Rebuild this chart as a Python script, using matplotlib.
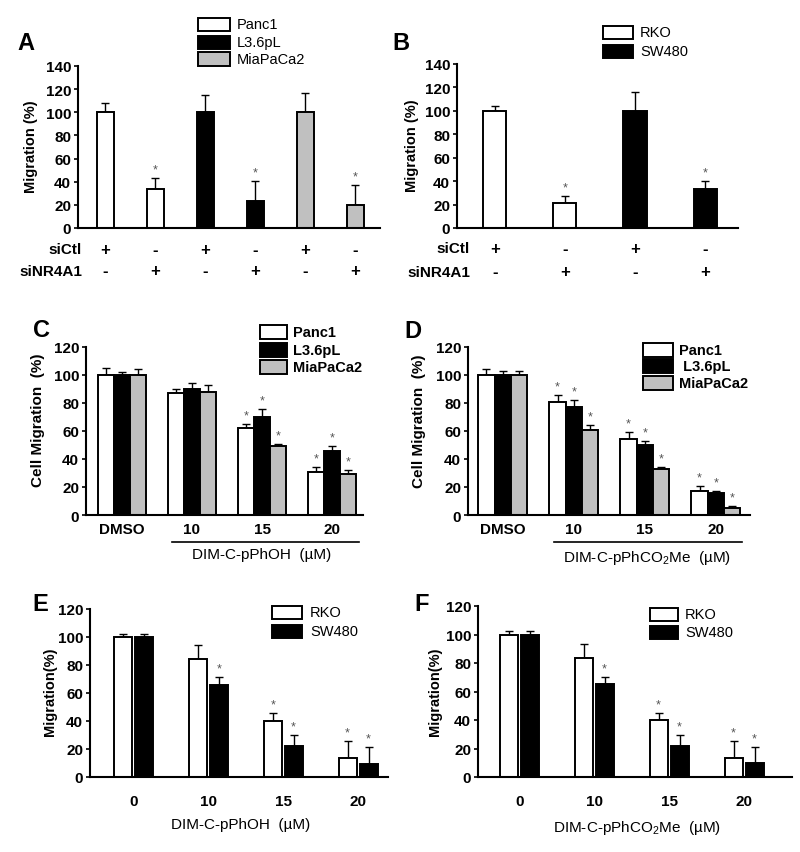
import numpy as np
import matplotlib
matplotlib.use('Agg')
import matplotlib.pyplot as plt
from matplotlib.patches import Rectangle

plt.rcParams['font.family'] = ['Liberation Sans', 'DejaVu Sans']

W, H = 800, 853
GREY = '#c0c0c0'

# Panel A - siNR4A1 knockdown, pancreatic cells
a_names = ['Panc1', 'L3.6pL', 'MiaPaCa2']
a_vals = [100, 34, 100, 23, 100, 20]
a_err = [8, 9, 15, 18, 17, 17]
a_sig = [False, True, False, True, False, True]
a_sictl = ['+', '-', '+', '-', '+', '-']
a_sinr = ['-', '+', '-', '+', '-', '+']

# Panel B - siNR4A1 knockdown, colon cells
b_names = ['RKO', 'SW480']
b_vals = [100, 21, 100, 33]
b_err = [4, 6, 16, 7]
b_sig = [False, True, False, True]
b_sictl = ['+', '-', '+', '-']
b_sinr = ['-', '+', '-', '+']

# Panel C - DIM-C-pPhOH, pancreatic cells
c_doses = ['DMSO', '10', '15', '20']
c_panc1 = [100, 87, 62, 31]
c_panc1_err = [5, 3, 3, 3]
c_l36 = [100, 90, 70, 46]
c_l36_err = [2, 4, 6, 3]
c_mia = [100, 88, 49, 29]
c_mia_err = [4, 5, 2, 3]
c_sig = [False, False, True, True]

# Panel D - DIM-C-pPhCO2Me, pancreatic cells
d_doses = ['DMSO', '10', '15', '20']
d_panc1 = [100, 81, 54, 17]
d_panc1_err = [4, 5, 5, 4]
d_l36 = [100, 77, 50, 16]
d_l36_err = [3, 5, 3, 1]
d_mia = [100, 61, 33, 5]
d_mia_err = [3, 3, 1, 1.5]
d_sig = [False, True, True, True]

# Panel E - DIM-C-pPhOH, colon cells
e_doses = ['0', '10', '15', '20']
e_rko = [100, 84, 40, 13.5]
e_rko_err = [2, 10, 5.5, 12]
e_rko_sig = [False, False, True, True]
e_sw = [100, 66, 22, 9.5]
e_sw_err = [2, 5.5, 8, 12]
e_sw_sig = [False, True, True, True]

# Panel F - DIM-C-pPhCO2Me, colon cells
f_doses = ['0', '10', '15', '20']
f_rko = [100, 83.5, 40, 13]
f_rko_err = [2.5, 10, 5, 12]
f_rko_sig = [False, False, True, True]
f_sw = [100, 65.5, 22, 9.5]
f_sw_err = [2.5, 5, 7.5, 11.5]
f_sw_sig = [False, True, True, True]


fig = plt.figure(figsize=(W / 100, H / 100), dpi=100)


def px_axes(l, t, r, b):
    return fig.add_axes([l / W, 1 - b / H, (r - l) / W, (b - t) / H])


def style(ax, ymax):
    ax.set_ylim(0, ymax)
    ax.set_yticks(range(0, ymax + 1, 20))
    ax.spines[['top', 'right']].set_visible(False)
    ax.spines[['left', 'bottom']].set_linewidth(1.5)
    ax.tick_params(axis='y', direction='out', length=3, width=1.2, labelsize=11, pad=2)
    for t in ax.get_yticklabels():
        t.set_fontweight('bold')


def bars(ax, x, vals, err, sig, colors, width):
    ax.bar(x, vals, width, color=colors, edgecolor='black', linewidth=1.4, zorder=2)
    ax.errorbar(x, vals, yerr=[np.zeros(len(vals)), err], fmt='none', ecolor='black',
                elinewidth=1, capsize=3, capthick=1, zorder=1)
    for xi, v, e, s in zip(x, vals, err, sig):
        if s:
            ax.annotate('*', (xi, v + e), xytext=(0, 4), textcoords='offset points',
                        ha='center', va='baseline', fontsize=9, color='#555555')


def key(x, ys, labels, colors, w, h, tx, size, weight='normal'):
    for y, lab, col in zip(ys, labels, colors):
        fig.add_artist(Rectangle((x / W, 1 - (y + h / 2) / H), w / W, h / H,
                                 transform=fig.transFigure, facecolor=col,
                                 edgecolor='black', linewidth=1.4))
        fig.text(tx / W, 1 - y / H, lab, ha='left', va='center', fontsize=size, fontweight=weight)


def letter(x, y, s):
    fig.text(x / W, 1 - y / H, s, ha='center', va='center', fontsize=17, fontweight='bold')


def ylab(x, y, s, size):
    fig.text(x / W, 1 - y / H, s, ha='center', va='center', rotation=90,
             fontsize=size, fontweight='bold')


# ---------- A ----------
ax = px_axes(78, 67, 380, 229)
xa = np.arange(len(a_vals))
bars(ax, xa, a_vals, a_err, a_sig,
     ['white', 'white', 'black', 'black', GREY, GREY], 0.34)
style(ax, 140)
ax.set_xlim(-0.54, 5.5)
ax.set_xticks([])
tr = ax.get_xaxis_transform()
for xi, p, q in zip(xa, a_sictl, a_sinr):
    ax.text(xi, -0.13, p, transform=tr, ha='center', va='center', fontsize=12, fontweight='bold')
    ax.text(xi, -0.265, q, transform=tr, ha='center', va='center', fontsize=12, fontweight='bold')
ax.text(0.013, -0.13, 'siCtl', transform=ax.transAxes, ha='right', va='center', fontsize=11, fontweight='bold')
ax.text(0.013, -0.265, 'siNR4A1', transform=ax.transAxes, ha='right', va='center', fontsize=11, fontweight='bold')
key(198, [25, 43, 60], a_names, ['white', 'black', GREY], 32, 13, 237, 10.5)
letter(26, 44, 'A')
ylab(31, 147, 'Migration (%)', 10.5)

# ---------- B ----------
ax = px_axes(457, 65, 738, 229)
xb = np.arange(len(b_vals))
bars(ax, xb, b_vals, b_err, b_sig, ['white', 'white', 'black', 'black'], 0.33)
style(ax, 140)
ax.set_xlim(-0.54, 3.47)
ax.set_xticks([])
tr = ax.get_xaxis_transform()
for xi, p, q in zip(xb, b_sictl, b_sinr):
    ax.text(xi, -0.122, p, transform=tr, ha='center', va='center', fontsize=12, fontweight='bold')
    ax.text(xi, -0.268, q, transform=tr, ha='center', va='center', fontsize=12, fontweight='bold')
ax.text(0.046, -0.122, 'siCtl', transform=ax.transAxes, ha='right', va='center', fontsize=11, fontweight='bold')
ax.text(0.046, -0.268, 'siNR4A1', transform=ax.transAxes, ha='right', va='center', fontsize=11, fontweight='bold')
key(603, [33, 52], b_names, ['white', 'black'], 30, 13, 640, 10.5)
letter(401, 43, 'B')
ylab(412, 146, 'Migration (%)', 10.5)


# ---------- C / D ----------
def dose_panel(box, doses, series, errs, sig, xlim, bracket, xlab, xlab_pos):
    ax = px_axes(*box)
    x = np.arange(len(doses))
    for k, (vals, err, col) in enumerate(zip(series, errs, ['white', 'black', GREY])):
        bars(ax, x + (k - 1) * 0.23, vals, err, sig, col, 0.23)
    style(ax, 120)
    ax.set_xlim(*xlim)
    ax.set_xticks(x, doses)
    ax.tick_params(axis='x', length=0, labelsize=11, pad=5)
    for t in ax.get_xticklabels():
        t.set_fontweight('bold')
    tr = ax.get_xaxis_transform()
    ax.plot(bracket, [-0.16, -0.16], transform=tr, clip_on=False, color='black', lw=1.2)
    ax.text(xlab_pos[0], xlab_pos[1], xlab, transform=tr, ha='center', va='center', fontsize=11)
    return ax


dose_panel((86, 348, 363, 516), c_doses, [c_panc1, c_l36, c_mia],
           [c_panc1_err, c_l36_err, c_mia_err], c_sig, (-0.51, 3.44),
           [0.72, 3.38], 'DIM-C-pPhOH  (µM)', (2.0, -0.232))
key(260, [333, 351, 368], a_names, ['white', 'black', GREY], 27, 14, 293, 10.5, 'bold')
letter(41, 331, 'C')
ylab(38, 420, 'Cell Migration  (%)', 11)

dose_panel((468, 348, 750, 516), d_doses, [d_panc1, d_l36, d_mia],
           [d_panc1_err, d_l36_err, d_mia_err], d_sig, (-0.49, 3.48),
           [0.72, 3.37], r'DIM-C-pPhCO$_\mathregular{2}$Me  (µM)', (2.03, -0.25))
key(643, [351, 367, 384], ['Panc1', ' L3.6pL', 'MiaPaCa2'], ['white', 'black', GREY],
    30, 14, 679, 10.5, 'bold')
letter(413, 332, 'D')
ylab(419, 421, 'Cell Migration  (%)', 11)


# ---------- E / F ----------
def colon_panel(box, doses, rko, rko_err, rko_sig, sw, sw_err, sw_sig, xlim, xlab, xlab_pos):
    ax = px_axes(*box)
    x = np.arange(len(doses))
    bars(ax, x - 0.14, rko, rko_err, rko_sig, 'white', 0.24)
    bars(ax, x + 0.14, sw, sw_err, sw_sig, 'black', 0.24)
    style(ax, 120)
    ax.set_xlim(*xlim)
    ax.set_xticks(x, doses)
    ax.tick_params(axis='x', length=0, labelsize=11, pad=12)
    for t in ax.get_xticklabels():
        t.set_fontweight('bold')
    ax.text(xlab_pos[0], xlab_pos[1], xlab, transform=ax.get_xaxis_transform(),
            ha='center', va='center', fontsize=11)
    return ax


colon_panel((90, 610, 388, 778), e_doses, e_rko, e_rko_err, e_rko_sig,
            e_sw, e_sw_err, e_sw_sig, (-0.58, 3.4), 'DIM-C-pPhOH  (µM)', (1.43, -0.28))
key(272, [613, 632], b_names, ['white', 'black'], 30, 13, 310, 10.5)
letter(40, 605, 'E')
ylab(50, 692, 'Migration(%)', 10.5)

colon_panel((478, 607, 792, 778), f_doses, f_rko, f_rko_err, f_rko_sig,
            f_sw, f_sw_err, f_sw_sig, (-0.55, 3.64),
            r'DIM-C-pPhCO$_\mathregular{2}$Me  (µM)', (1.57, -0.29))
key(650, [615, 633], b_names, ['white', 'black'], 28, 13, 685, 10.5)
letter(422, 605, 'F')
ylab(435, 692, 'Migration(%)', 10.5)

fig.savefig('out.png', dpi=100)
